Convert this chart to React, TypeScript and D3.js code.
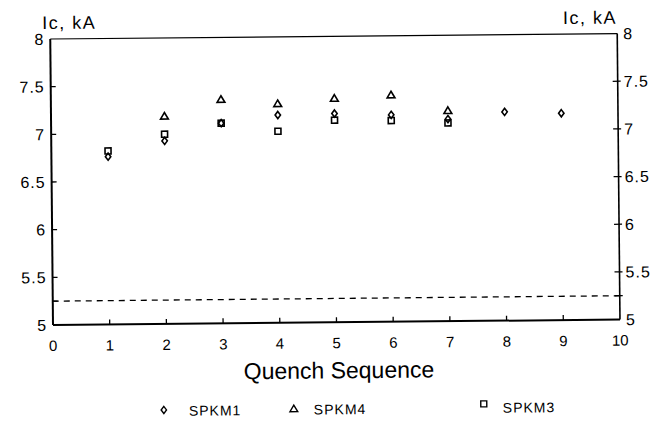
import React from 'react';
import * as d3 from 'd3';

const spkm1X = [1, 2, 3, 4, 5, 6, 7, 8, 9];
const spkm1 = [6.76, 6.92, 7.1, 7.18, 7.19, 7.17, 7.12, 7.19, 7.17];
const spkm4X = [2, 3, 4, 5, 6, 7];
const spkm4 = [7.18, 7.35, 7.3, 7.35, 7.38, 7.21];
const spkm3X = [1, 2, 3, 4, 5, 6, 7];
const spkm3 = [6.82, 6.99, 7.1, 7.01, 7.12, 7.11, 7.08];
const xTicks = [0, 1, 2, 3, 4, 5, 6, 7, 8, 9, 10];
const yTicks = [5, 5.5, 6, 6.5, 7, 7.5, 8];
const yTickLabels = ['5', '5.5', '6', '6.5', '7', '7.5', '8'];
const limitLine = 5.25;
const seriesNames = ['SPKM1', 'SPKM4', 'SPKM3'];
const xTitle = 'Quench Sequence';
const yTitle = 'Ic, kA';

const W = 654, H = 421;
const L = 53, R = 620, T = 39, B = 325;
const FONT = '"Liberation Sans", Arial, sans-serif';

const diamondPath = 'M0,-3.6L2.7,0L0,3.6L-2.7,0Z';
const trianglePath = 'M0,-3.6L3.9,3L-3.9,3Z';
const squarePath = 'M-3,-3L3,-3L3,3L-3,3Z';
const markerPaths = [diamondPath, trianglePath, squarePath];

export default function App() {
  const x = d3.scaleLinear().domain([0, 10]).range([L, R]);
  const y = d3.scaleLinear().domain([5, 8]).range([B, T]);
  const series = [
    { xs: spkm1X, ys: spkm1 },
    { xs: spkm4X, ys: spkm4 },
    { xs: spkm3X, ys: spkm3 },
  ];
  const legendPos = [
    { mx: 163, tx: 188 },
    { mx: 293, tx: 313 },
    { mx: 483, tx: 502 },
  ];
  const innerTicks = yTicks.filter((v) => v > 5 && v < 8).concat([limitLine]);
  return (
    <svg width={W} height={H} style={{ position: 'absolute', left: 0, top: 0, background: '#fff' }}>
      <rect x={0} y={0} width={W} height={H} fill="#fff" />
      <g transform={`rotate(-0.55, ${L}, ${B})`} fontFamily={FONT} fill="#000">
        {/* frame */}
        <line x1={L} x2={R} y1={T} y2={T} stroke="#000" strokeWidth={1.2} />
        <line x1={L} x2={L} y1={T} y2={B} stroke="#000" strokeWidth={2} />
        <line x1={R} x2={R} y1={T} y2={B} stroke="#000" strokeWidth={1.6} />
        <line x1={L} x2={R} y1={B} y2={B} stroke="#000" strokeWidth={2} />
        {/* limit dashed line */}
        <line x1={L} x2={R} y1={y(limitLine)} y2={y(limitLine)} stroke="#000" strokeWidth={1.3} strokeDasharray="6,5" />
        {/* y ticks */}
        {innerTicks.map((v) => (
          <g key={'yt' + v}>
            <line x1={L} x2={L + 5} y1={y(v)} y2={y(v)} stroke="#000" strokeWidth={1.3} />
            <line x1={R - 5} x2={R + 3} y1={y(v)} y2={y(v)} stroke="#000" strokeWidth={1.3} />
          </g>
        ))}
        {/* x ticks */}
        {xTicks.filter((v) => v > 0 && v < 10).map((v) => (
          <line key={'xt' + v} x1={x(v)} x2={x(v)} y1={B} y2={B - 5} stroke="#000" strokeWidth={1.3} />
        ))}
        {/* y tick labels */}
        {yTicks.map((v, i) => (
          <g key={'yl' + v}>
            <text x={L - 6} y={y(v)} dy="0.36em" textAnchor="end" fontSize={16} letterSpacing={1}>{yTickLabels[i]}</text>
            <text x={R + 6} y={y(v)} dy="0.36em" textAnchor="start" fontSize={16} letterSpacing={1}>{yTickLabels[i]}</text>
          </g>
        ))}
        {/* x tick labels */}
        {xTicks.map((v) => (
          <text key={'xl' + v} x={x(v)} y={B + 26} textAnchor="middle" fontSize={15}>{v}</text>
        ))}
        {/* axis titles */}
        <text x={45} y={29} fontSize={18} letterSpacing={1.5}>{yTitle}</text>
        <text x={R} y={29} fontSize={18} letterSpacing={1.5} textAnchor="end">{yTitle}</text>
        <text x={(L + R) / 2 + 2} y={B + 56} fontSize={23} textAnchor="middle">{xTitle}</text>
        {/* data */}
        {series.map((s, si) =>
          s.xs.map((xv, i) => (
            <path key={`p${si}-${i}`} d={markerPaths[si]} transform={`translate(${x(xv)},${y(s.ys[i])})`}
              fill="none" stroke="#000" strokeWidth={1.6} />
          ))
        )}
        {/* legend */}
        {seriesNames.map((n, i) => (
          <g key={'lg' + n}>
            <path d={markerPaths[i]} transform={`translate(${legendPos[i].mx},${411 - (i === 2 ? 3 : 0)})`} fill="none" stroke="#000" strokeWidth={1.4} />
            <text x={legendPos[i].tx} y={417} fontSize={14} letterSpacing={1}>{n}</text>
          </g>
        ))}
      </g>
    </svg>
  );
}
